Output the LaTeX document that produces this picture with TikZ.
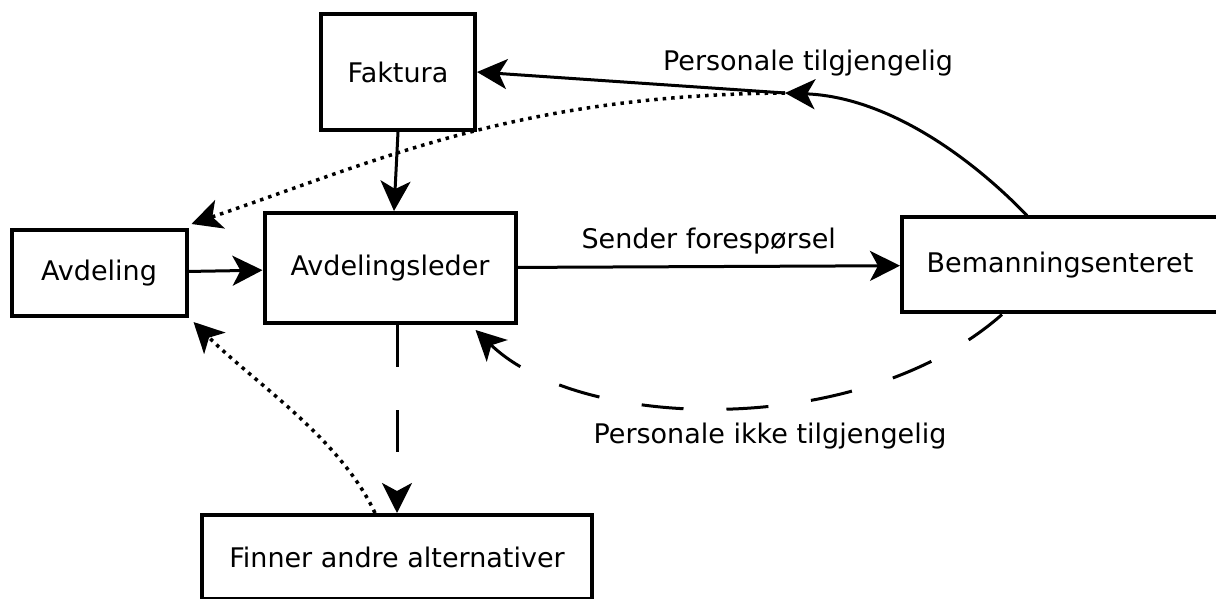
\documentclass[tikz,border=0pt]{standalone}
\usepackage{fontspec}
\setmainfont{DejaVu Sans}
\usetikzlibrary{arrows.meta,calc}
\tikzset{
    block/.style = {draw, rectangle, line width=4pt, align=center, inner sep=0pt},
    txt/.style = {inner sep=0pt},
    arrow/.style = {draw, line width=3pt, ->},
    dotarrow/.style = {arrow, line width=3.5pt, dash pattern=on 3.5pt off 5pt},
    dasharrow/.style = {arrow, dash pattern=on 42pt off 43pt},
}

\begin{document}
\begin{tikzpicture}[x=1pt, y=1pt, >={Stealth[length=30pt,width=30pt,inset=8pt]},
    every node/.style={font=\fontsize{27pt}{32pt}\selectfont}]
    \useasboundingbox (0,0) rectangle (1216,598);
    \clip (0,0) rectangle (1216,598);
    % boxes
    \node [block, minimum width=251pt, minimum height=110pt] (leder) at (390,330) {Avdelingsleder};
    \node [block, left of=leder, node distance=291pt, yshift=-5pt, minimum width=175pt, minimum height=86pt] (avdeling) {Avdeling};
    \node [block, minimum width=154pt, minimum height=116pt] (faktura) at (398,526) {Faktura};
    \node [block, minimum width=316pt, minimum height=95pt] (bemanning) at (1060,333) {Bemanningsenteret};
    \node [block, minimum width=390pt, minimum height=84pt] (finner) at (397,41) {Finner andre alternativer};
    \coordinate (split) at (785,505);
    % solid arrows
    \draw [arrow] (faktura.south) -- ([xshift=4pt]leder.north);
    \draw [arrow] (avdeling) -- (leder);
    \draw [arrow] (leder) -- node[above=8pt] {Sender forespørsel} (bemanning);
    \draw [arrow] ([xshift=-33pt]bemanning.north) .. controls +(-60,62) and +(100,-4) .. (split);
    \draw [arrow] (split) -- (faktura.east);
    \node [txt] (tilgj) at ($(split)+(23,30)$) {Personale tilgjengelig};
    % dotted arrows
    \draw [dotarrow] (split) .. controls +(-265,-2) and +(190,65) .. ([shift={(3,4)}]avdeling.north east);
    \draw [dotarrow] ([xshift=-22pt]finner.north) .. controls +(-35,75) and +(60,-60) .. ([shift={(5,-4)}]avdeling.south east);
    % dashed arrows
    \draw [dasharrow] ([xshift=-58pt]bemanning.south) .. controls +(-142,-125) and +(106,-102) .. ([shift={(-42,-5)}]leder.south east);
    \node [txt] (ikke) at (770,162) {Personale ikke tilgjengelig};
    \draw [dasharrow] (leder.south -| finner.north) -- (finner.north);
\end{tikzpicture}
\end{document}
